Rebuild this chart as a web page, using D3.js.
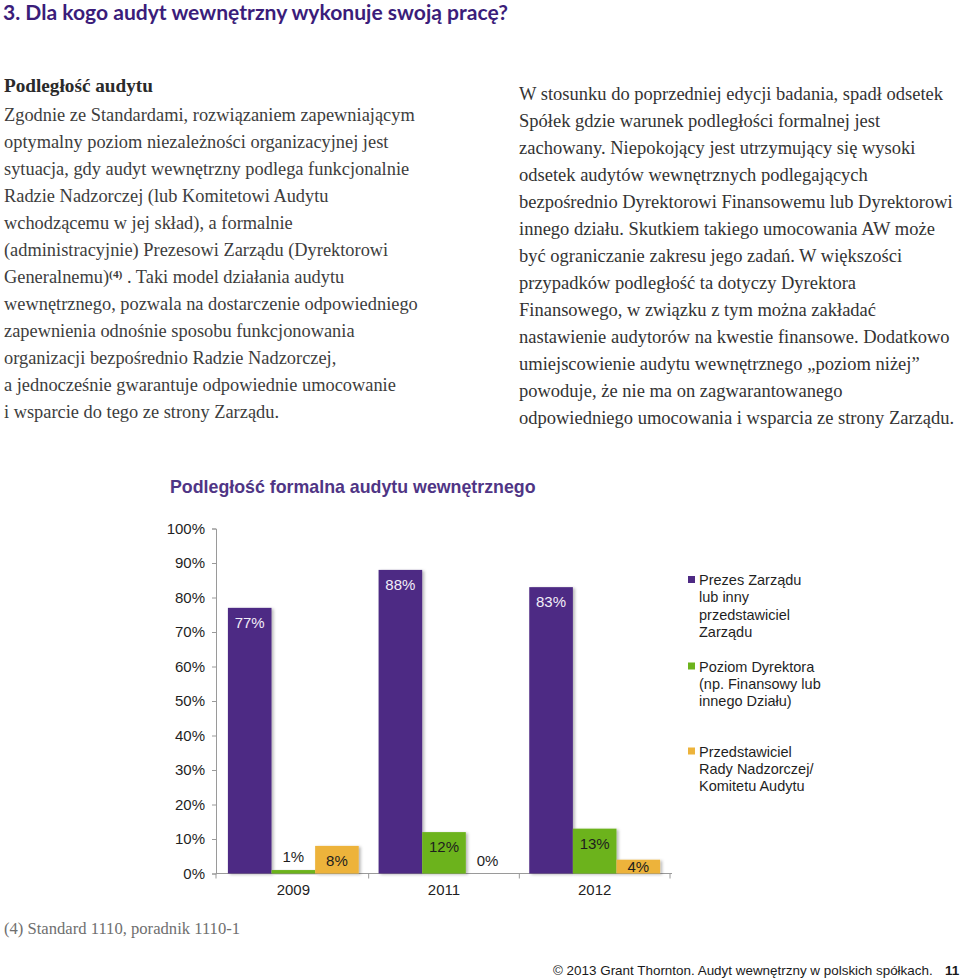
<!DOCTYPE html>
<html>
<head>
<meta charset="utf-8">
<script src="https://cdn.jsdelivr.net/npm/d3@7"></script>
<style>
  html, body { margin: 0; padding: 0; background: #fff; }
  svg { display: block; }
</style>
</head>
<body>
<svg id="page" width="960" height="979"></svg>
<script>
// ---------- DATA ----------
const years = ["2009", "2011", "2012"];
const seriesNames = [
  ["Prezes Zarządu", "lub inny", "przedstawiciel", "Zarządu"],
  ["Poziom Dyrektora", "(np. Finansowy lub", "innego Działu)"],
  ["Przedstawiciel", "Rady Nadzorczej/", "Komitetu Audytu"]
];
const prezesValues = [77, 88, 83];
const dyrektorValues = [1, 12, 13];
const radaValues = [8, 0, 4];
const yTickValues = [0, 10, 20, 30, 40, 50, 60, 70, 80, 90, 100];
const seriesColors = ["#4e2a84", "#6cb31d", "#edb33b"];
const labelColors = ["#f2eef8", "#1e1e1e", "#1e1e1e"];

const pageTitle = "3. Dla kogo audyt wewnętrzny wykonuje swoją pracę?";
const chartTitle = "Podległość formalna audytu wewnętrznego";
const leftHeading = "Podległość audytu";
const leftLines = [
  "Zgodnie ze Standardami, rozwiązaniem zapewniającym",
  "optymalny poziom niezależności organizacyjnej jest",
  "sytuacja, gdy audyt wewnętrzny podlega funkcjonalnie",
  "Radzie Nadzorczej (lub Komitetowi Audytu",
  "wchodzącemu w jej skład), a formalnie",
  "(administracyjnie) Prezesowi Zarządu (Dyrektorowi",
  ["Generalnemu)", "(4)", " . Taki model działania audytu"],
  "wewnętrznego, pozwala na dostarczenie odpowiedniego",
  "zapewnienia odnośnie sposobu funkcjonowania",
  "organizacji bezpośrednio Radzie Nadzorczej,",
  "a jednocześnie gwarantuje odpowiednie umocowanie",
  "i wsparcie do tego ze strony Zarządu."
];
const rightLines = [
  "W stosunku do poprzedniej edycji badania, spadł odsetek",
  "Spółek gdzie warunek podległości formalnej jest",
  "zachowany. Niepokojący jest utrzymujący się wysoki",
  "odsetek audytów wewnętrznych podlegających",
  "bezpośrednio Dyrektorowi Finansowemu lub Dyrektorowi",
  "innego działu. Skutkiem takiego umocowania AW może",
  "być ograniczanie zakresu jego zadań. W większości",
  "przypadków podległość ta dotyczy Dyrektora",
  "Finansowego, w związku z tym można zakładać",
  "nastawienie audytorów na kwestie finansowe. Dodatkowo",
  "umiejscowienie audytu wewnętrznego „poziom niżej”",
  "powoduje, że nie ma on zagwarantowanego",
  "odpowiedniego umocowania i wsparcia ze strony Zarządu."
];
const footnote = "(4) Standard 1110, poradnik 1110-1";
const footerText = "© 2013 Grant Thornton. Audyt wewnętrzny w polskich spółkach.";
const pageNumber = "11";

// ---------- HELPERS ----------
const svg = d3.select("#page");
function fitFont(sel, targetWidth) {
  const node = sel.node();
  const fs = parseFloat(sel.attr("font-size"));
  const w = node.getComputedTextLength();
  if (w > 0) sel.attr("font-size", (fs * targetWidth / w).toFixed(2));
  return parseFloat(sel.attr("font-size"));
}

// ---------- PAGE TITLE ----------
const t = svg.append("text")
  .attr("x", 3).attr("y", 20)
  .attr("font-family", "Lato, 'Open Sans', sans-serif")
  .attr("font-weight", "bold")
  .attr("font-size", 21)
  .attr("fill", "#3b1d7a")
  .text(pageTitle);
fitFont(t, 505);

// ---------- LEFT COLUMN ----------
const serif = "'Liberation Serif', 'DejaVu Serif', serif";
const lh = svg.append("text")
  .attr("x", 4).attr("y", 92)
  .attr("font-family", serif).attr("font-weight", "bold")
  .attr("font-size", 18).attr("fill", "#2a2a2a")
  .text(leftHeading);
fitFont(lh, 149);

// measure font size for left paragraph from first line
const probeL = svg.append("text").attr("font-family", serif).attr("font-size", 17).text(leftLines[0]);
const fsL = fitFont(probeL, 411);
probeL.remove();

const leftG = svg.append("g").attr("font-family", serif).attr("font-size", fsL).attr("fill", "#3d3d3d");
leftLines.forEach((ln, i) => {
  const tx = leftG.append("text").attr("x", 4).attr("y", 121 + i * 27);
  if (Array.isArray(ln)) {
    tx.append("tspan").text(ln[0]);
    tx.append("tspan").attr("font-size", fsL * 0.62).attr("font-weight", "bold")
      .attr("dy", -5).text(ln[1]);
    tx.append("tspan").attr("dy", 5).text(ln[2]);
  } else {
    tx.text(ln);
  }
});

// ---------- RIGHT COLUMN ----------
const probeR = svg.append("text").attr("font-family", serif).attr("font-size", 17).text(rightLines[0]);
const fsR = fitFont(probeR, 424);
probeR.remove();
const rightG = svg.append("g").attr("font-family", serif).attr("font-size", fsR).attr("fill", "#333");
rightLines.forEach((ln, i) => {
  rightG.append("text").attr("x", 519).attr("y", 100 + i * 27).text(ln);
});

// ---------- CHART ----------
const sans = "'Liberation Sans', Arial, sans-serif";
const ct = svg.append("text")
  .attr("x", 170).attr("y", 493)
  .attr("font-family", sans).attr("font-weight", "bold")
  .attr("font-size", 17).attr("fill", "#4f3585")
  .text(chartTitle);
fitFont(ct, 366);

const y = d3.scaleLinear().domain([0, 100]).range([873.5, 528.5]);
const x0 = d3.scaleBand().domain(years).range([216, 672]).paddingInner(0.1316).paddingOuter(0.0658 * 1.2);
const x1 = d3.scaleBand().domain([0, 1, 2]).range([0, x0.bandwidth()]);

const defs = svg.append("defs");
const f = defs.append("filter").attr("id", "shadow").attr("x", "-10%").attr("y", "-10%").attr("width", "130%").attr("height", "130%");
f.append("feDropShadow").attr("dx", 2).attr("dy", 1).attr("stdDeviation", 1.4)
  .attr("flood-color", "#000").attr("flood-opacity", 0.28);

// y axis
const yAxis = d3.axisLeft(y).tickValues(yTickValues).tickFormat(d => d + "%").tickSize(4).tickPadding(6);
const gy = svg.append("g").attr("transform", "translate(216,0)").call(yAxis);
gy.select(".domain").attr("stroke", "#9a9a9a");
gy.selectAll(".tick line").attr("stroke", "#9a9a9a");
gy.selectAll(".tick text").attr("font-family", sans).attr("font-size", 15).attr("fill", "#1f1f1f").attr("x", -11);

// x axis
const gx = svg.append("g").attr("transform", "translate(0,873.5)");
gx.append("line").attr("x1", 216).attr("x2", 672).attr("stroke", "#9a9a9a");
const boundaries = [216].concat(years.map(d => x0(d) - x0.step() * x0.paddingInner() / 2 + x0.step()));
gx.selectAll("line.tk").data(boundaries).join("line").attr("class", "tk")
  .attr("x1", d => d).attr("x2", d => d).attr("y1", 0).attr("y2", 5).attr("stroke", "#9a9a9a");
gx.selectAll("text").data(years).join("text")
  .attr("x", d => x0(d) + x0.bandwidth() / 2).attr("y", 21)
  .attr("text-anchor", "middle")
  .attr("font-family", sans).attr("font-size", 15).attr("fill", "#1f1f1f")
  .text(d => d);

// bars
const allSeries = [prezesValues, dyrektorValues, radaValues];
const rows = [];
years.forEach((yr, i) => allSeries.forEach((vals, s) => rows.push({ yr, s, v: vals[i] })));

svg.append("g").selectAll("rect").data(rows).join("rect")
  .attr("x", d => x0(d.yr) + x1(d.s))
  .attr("y", d => y(d.v))
  .attr("width", x1.bandwidth())
  .attr("height", d => y(0) - y(d.v))
  .attr("fill", d => seriesColors[d.s])
  .attr("filter", d => d.v > 0 ? "url(#shadow)" : null);

svg.append("g").selectAll("text").data(rows).join("text")
  .attr("x", d => x0(d.yr) + x1(d.s) + x1.bandwidth() / 2)
  .attr("y", d => d.v < 3 ? y(d.v) - 8 : Math.min(y(d.v) + 20, y(0) - 2))
  .attr("text-anchor", "middle")
  .attr("font-family", sans).attr("font-size", 15)
  .attr("fill", d => d.v < 3 ? "#1e1e1e" : labelColors[d.s])
  .text(d => d.v + "%");

// legend
const legendStarts = [585, 671.5, 756.5];
const lg = svg.append("g").attr("font-family", sans).attr("font-size", 14.5).attr("fill", "#1f1f1f");
seriesNames.forEach((lines, s) => {
  lg.append("rect").attr("x", 688).attr("y", legendStarts[s] - 9).attr("width", 7).attr("height", 7)
    .attr("fill", seriesColors[s]);
  lines.forEach((ln, j) => {
    lg.append("text").attr("x", 699).attr("y", legendStarts[s] + j * 17.3).text(ln);
  });
});

// ---------- FOOTNOTE & FOOTER ----------
const fn = svg.append("text").attr("x", 4).attr("y", 934)
  .attr("font-family", serif).attr("font-size", 15).attr("fill", "#6f6f6f").text(footnote);
fitFont(fn, 236);

const ft = svg.append("text").attr("x", 553).attr("y", 975)
  .attr("font-family", "'Liberation Sans Narrow', 'Liberation Sans', Arial, sans-serif")
  .attr("font-size", 13.5).attr("fill", "#1a1a1a").text(footerText);
fitFont(ft, 380);
svg.append("text").attr("x", 945).attr("y", 975)
  .attr("font-family", "'Liberation Sans Narrow', 'Liberation Sans', Arial, sans-serif")
  .attr("font-weight", "bold").attr("font-size", 13.5).attr("fill", "#1a1a1a").text(pageNumber);
</script>
</body>
</html>
